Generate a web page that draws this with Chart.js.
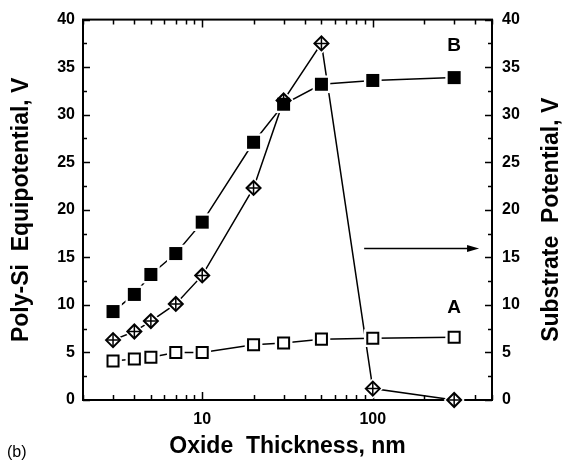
<!DOCTYPE html>
<html>
<head>
<meta charset="utf-8">
<script src="https://cdn.jsdelivr.net/npm/chart.js@4.4.1/dist/chart.umd.min.js"></script>
<style>
  html, body { margin: 0; padding: 0; background: #fff; }
  #wrap { width: 562px; height: 465px; position: relative; }
</style>
</head>
<body>
<div id="wrap"><canvas id="c"></canvas></div>
<script>
// ---- data ----
const thickness = [3, 4, 5, 7, 10, 20, 30, 50, 100, 300];          // Oxide thickness, nm
const polyB     = [9.3, 11.1, 13.2, 15.4, 18.7, 27.1, 31.1, 33.2, 33.6, 33.9]; // curve B (left axis)
const polyA     = [4.1, 4.3, 4.5, 5.0, 5.0, 5.8, 6.0, 6.4, 6.5, 6.6];          // curve A (left axis)
const substrate = [6.3, 7.2, 8.3, 10.1, 13.1, 22.3, 31.5, 37.5, 1.2, 0];       // substrate potential (right axis)

const xTicks      = [2, 3, 4, 5, 6, 7, 8, 9, 10, 20, 30, 40, 50, 60, 70, 80, 90, 100, 200, 300, 400, 500];
const xTickLabels = [10, 100];
const yTicks      = [0, 5, 10, 15, 20, 25, 30, 35, 40];
const yMinorTicks = [2.5, 7.5, 12.5, 17.5, 22.5, 27.5, 32.5, 37.5];

const xTitle  = 'Oxide  Thickness, nm';
const yTitle  = 'Poly-Si  Equipotential, V';
const y2Title = 'Substrate  Potential, V';
const panelLabel = '(b)';

// annotation anchors (data coordinates)
const labelB = { text: 'B', x: 300, y: 37.2 };
const labelA = { text: 'A', x: 300, y: 9.7 };
const arrow  = { x0: 89, x1: 420, y: 16.0 };

const pts = ys => thickness.map((x, i) => ({ x, y: ys[i] }));

const BOLD = '"Liberation Sans", Arial, Helvetica, sans-serif';

const frameTicks = {
  id: 'frameTicks',
  beforeDatasetsDraw(chart) {
    const { ctx, chartArea: a, scales } = chart;
    ctx.save();
    ctx.strokeStyle = '#000';
    ctx.lineWidth = 1.5;
    ctx.beginPath();
    yTicks.forEach(v => {
      const p = Math.round(scales.y.getPixelForValue(v)) + 0.5;
      ctx.moveTo(a.left, p); ctx.lineTo(a.left + 7, p);
      const q = Math.round(scales.y2.getPixelForValue(v)) + 0.5;
      ctx.moveTo(a.right, q); ctx.lineTo(a.right - 7, q);
    });
    yMinorTicks.forEach(v => {
      const p = Math.round(scales.y.getPixelForValue(v)) + 0.5;
      ctx.moveTo(a.left, p); ctx.lineTo(a.left + 4, p);
      const q = Math.round(scales.y2.getPixelForValue(v)) + 0.5;
      ctx.moveTo(a.right, q); ctx.lineTo(a.right - 4, q);
    });
    xTicks.forEach(v => {
      const p = Math.round(scales.x.getPixelForValue(v)) + 0.5;
      const len = xTickLabels.includes(v) ? 8 : 5;
      ctx.moveTo(p, a.bottom); ctx.lineTo(p, a.bottom - len);
      ctx.moveTo(p, a.top); ctx.lineTo(p, a.top + len);
    });
    ctx.stroke();
    ctx.lineWidth = 2;
    ctx.strokeRect(a.left, a.top, a.right - a.left, a.bottom - a.top);
    ctx.restore();
  },
  afterDatasetsDraw(chart) {
    const { ctx, scales, chartArea: a } = chart;
    ctx.save();
    ctx.fillStyle = '#000';
    ctx.font = 'bold 19px ' + BOLD;
    ctx.textAlign = 'center';
    ctx.textBaseline = 'middle';
    [labelB, labelA].forEach(l => {
      ctx.fillText(l.text, scales.x.getPixelForValue(l.x), scales.y.getPixelForValue(l.y));
    });
    // arrow pointing to the right axis
    const ax0 = scales.x.getPixelForValue(arrow.x0);
    const ax1 = scales.x.getPixelForValue(arrow.x1);
    const ay = Math.round(scales.y2.getPixelForValue(arrow.y)) + 0.5;
    ctx.strokeStyle = '#000';
    ctx.lineWidth = 1.5;
    ctx.beginPath();
    ctx.moveTo(ax0, ay); ctx.lineTo(ax1 - 8, ay);
    ctx.stroke();
    ctx.beginPath();
    ctx.moveTo(ax1, ay); ctx.lineTo(ax1 - 12, ay - 3.5); ctx.lineTo(ax1 - 12, ay + 3.5);
    ctx.closePath(); ctx.fill();
    // right axis title, reading bottom-to-top like the left one
    ctx.save();
    ctx.translate(552, (a.top + a.bottom) / 2 + 10);
    ctx.rotate(-Math.PI / 2);
    ctx.font = 'bold 23px ' + BOLD;
    ctx.textAlign = 'center';
    ctx.textBaseline = 'middle';
    ctx.fillText(y2Title, 0, 0);
    ctx.restore();
    // panel label
    ctx.font = '16px ' + BOLD;
    ctx.textAlign = 'left';
    ctx.textBaseline = 'middle';
    ctx.fillText(panelLabel, 7, 453);
    ctx.restore();
  }
};

const tickFont = { family: BOLD, size: 16, weight: 'bold' };
const titleFont = { family: BOLD, size: 23, weight: 'bold' };

new Chart(document.getElementById('c'), {
  type: 'line',
  data: {
    datasets: [
      // connecting lines (bottom layer)
      { data: pts(polyB), yAxisID: 'y', borderColor: '#000', borderWidth: 1.5, pointRadius: 0, order: 5, clip: false },
      { data: pts(polyA), yAxisID: 'y', borderColor: '#000', borderWidth: 1.5, pointRadius: 0, order: 5, clip: false },
      { data: pts(substrate), yAxisID: 'y2', borderColor: '#000', borderWidth: 1.5, pointRadius: 0, order: 5, clip: false },
      // white halos to leave gaps around markers
      { data: pts(polyB), yAxisID: 'y', showLine: false, pointStyle: 'rect', pointRadius: 12.5, pointBackgroundColor: '#fff', pointBorderWidth: 0, order: 4, clip: false },
      { data: pts(polyA), yAxisID: 'y', showLine: false, pointStyle: 'rect', pointRadius: 12.5, pointBackgroundColor: '#fff', pointBorderWidth: 0, order: 4, clip: false },
      { data: pts(substrate), yAxisID: 'y2', showLine: false, pointStyle: 'rectRot', pointRadius: 10.5, pointBackgroundColor: '#fff', pointBorderWidth: 0, order: 4, clip: false },
      // markers
      { data: pts(substrate), yAxisID: 'y2', showLine: false, pointStyle: 'rectRot', pointRadius: 7, pointBackgroundColor: '#fff', pointBorderColor: '#000', pointBorderWidth: 2, order: 3, clip: false },
      { data: pts(substrate), yAxisID: 'y2', showLine: false, pointStyle: 'cross', pointRadius: 6.5, pointBorderColor: '#000', pointBorderWidth: 1.5, order: 2, clip: false },
      { data: pts(polyA), yAxisID: 'y', showLine: false, pointStyle: 'rect', pointRadius: 7.8, pointBackgroundColor: '#fff', pointBorderColor: '#000', pointBorderWidth: 2, order: 1, clip: false },
      { data: pts(polyB), yAxisID: 'y', showLine: false, pointStyle: 'rect', pointRadius: 9.2, pointBackgroundColor: '#000', pointBorderColor: '#000', pointBorderWidth: 0, order: 0, clip: false }
    ]
  },
  options: {
    responsive: true,
    maintainAspectRatio: false,
    animation: false,
    events: [],
    layout: { padding: { top: 16, left: 0, right: 0, bottom: 0 } },
    plugins: { legend: { display: false }, tooltip: { enabled: false } },
    scales: {
      x: {
        type: 'logarithmic',
        min: 2, max: 500,
        grid: { display: false, drawTicks: false }, border: { display: false },
        afterBuildTicks: s => { s.ticks = xTicks.map(v => ({ value: v })); },
        afterFit: s => { s.height = 65; },
        ticks: {
          autoSkip: false, maxRotation: 0, minRotation: 0, padding: 10,
          color: '#000', font: tickFont,
          callback: v => xTickLabels.includes(v) ? String(v) : ''
        },
        title: { display: true, text: xTitle, color: '#000', font: titleFont, padding: { top: 0, bottom: 5 } }
      },
      y: {
        position: 'left', min: 0, max: 40,
        grid: { display: false, drawTicks: false }, border: { display: false },
        afterBuildTicks: s => { s.ticks = yTicks.map(v => ({ value: v })); },
        afterFit: s => { s.width = 83; },
        ticks: { color: '#000', font: tickFont, padding: 8 },
        title: { display: true, text: yTitle, color: '#000', font: titleFont, padding: { top: 8, bottom: 0 } }
      },
      y2: {
        position: 'right', min: 0, max: 40,
        grid: { display: false, drawTicks: false }, border: { display: false },
        afterBuildTicks: s => { s.ticks = yTicks.map(v => ({ value: v })); },
        afterFit: s => { s.width = 70; },
        ticks: { color: '#000', font: tickFont, padding: 10 },
        title: { display: false }
      }
    }
  },
  plugins: [frameTicks]
});
</script>
</body>
</html>
